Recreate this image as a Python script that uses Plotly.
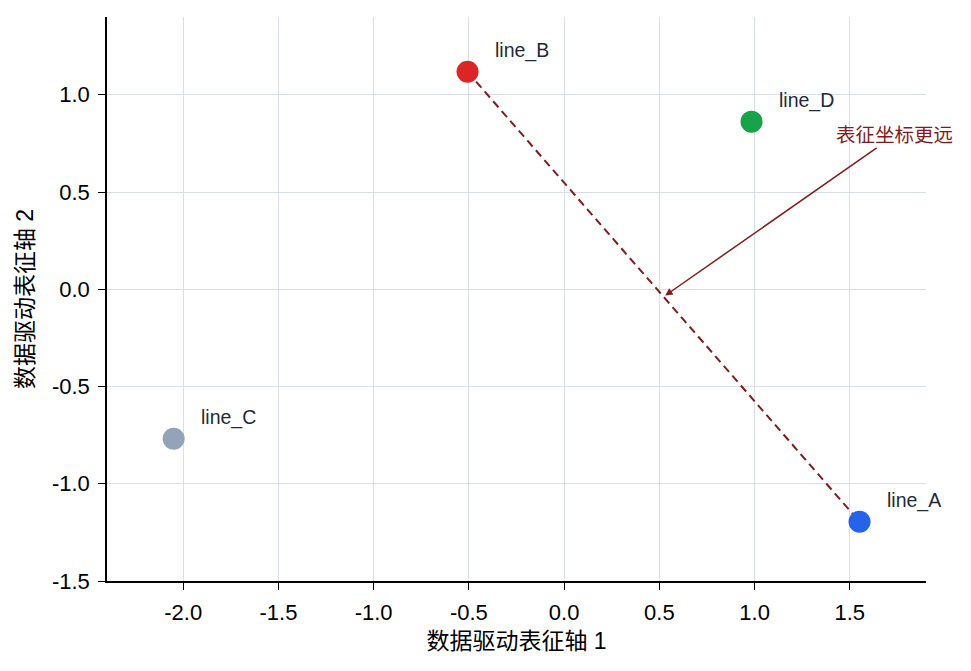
import plotly.graph_objects as go

names = ["line_A", "line_B", "line_C", "line_D"]
xs = [1.551, -0.507, -2.05, 0.984]
ys = [-1.195, 1.118, -0.769, 0.862]
colors = ["#2563eb", "#dc2626", "#94a3b8", "#16a34a"]

x_title = "数据驱动表征轴 1"
y_title = "数据驱动表征轴 2"
note_text = "表征坐标更远"
note_pos = (1.735, 0.791)

x_ticks = [-2.0, -1.5, -1.0, -0.5, 0.0, 0.5, 1.0, 1.5]
y_ticks = [-1.5, -1.0, -0.5, 0.0, 0.5, 1.0]

font_main = "Liberation Sans, Arial, Noto Sans CJK SC, sans-serif"
dark_red = "#7f1d1d"

fig = go.Figure()

ia, ib = 0, 1
fig.add_trace(go.Scatter(
    x=[xs[ib], xs[ia]], y=[ys[ib], ys[ia]], mode="lines",
    line=dict(color=dark_red, width=2, dash="8px,5px"),
    hoverinfo="skip", showlegend=False))

fig.add_trace(go.Scatter(
    x=xs, y=ys, mode="markers",
    marker=dict(size=22, color=colors, line=dict(width=0)),
    showlegend=False))

for n, x, y in zip(names, xs, ys):
    fig.add_annotation(x=x, y=y, text=n, showarrow=False,
                       xanchor="left", yanchor="middle", xshift=25, yshift=21,
                       font=dict(size=19.5, color="#1f2937", family=font_main))

mx = (xs[ia] + xs[ib]) / 2
my = (ys[ia] + ys[ib]) / 2
fig.add_annotation(x=mx, y=my, ax=note_pos[0], ay=note_pos[1],
                   axref="x", ayref="y", text=note_text, showarrow=True,
                   arrowhead=2, arrowsize=1, arrowwidth=1.5, arrowcolor=dark_red,
                   standoff=2,
                   font=dict(size=19.5, color=dark_red, family=font_main))

axis_common = dict(showline=True, linecolor="black", linewidth=1.5,
                   ticks="outside", ticklen=7, tickwidth=1.2, tickcolor="black",
                   showgrid=True, gridcolor="#d9dee6", gridwidth=1,
                   zeroline=False, mirror=False, ticklabelstandoff=4,
                   tickfont=dict(size=22, color="black", family=font_main))

fig.update_xaxes(range=[-2.40, 1.90], tickvals=x_ticks,
                 ticktext=[f"{v:.1f}" for v in x_ticks],
                 title=dict(text=x_title, font=dict(size=23, color="black", family=font_main), standoff=9),
                 **axis_common)
fig.update_yaxes(range=[-1.5, 1.40], tickvals=y_ticks,
                 ticktext=[f"{v:.1f}" for v in y_ticks],
                 title=dict(text=y_title, font=dict(size=23, color="black", family=font_main), standoff=12),
                 **axis_common)

fig.update_layout(width=971, height=671, plot_bgcolor="white", paper_bgcolor="white",
                  margin=dict(l=107, r=45, t=17, b=90), showlegend=False)

fig.write_html("out.html")
